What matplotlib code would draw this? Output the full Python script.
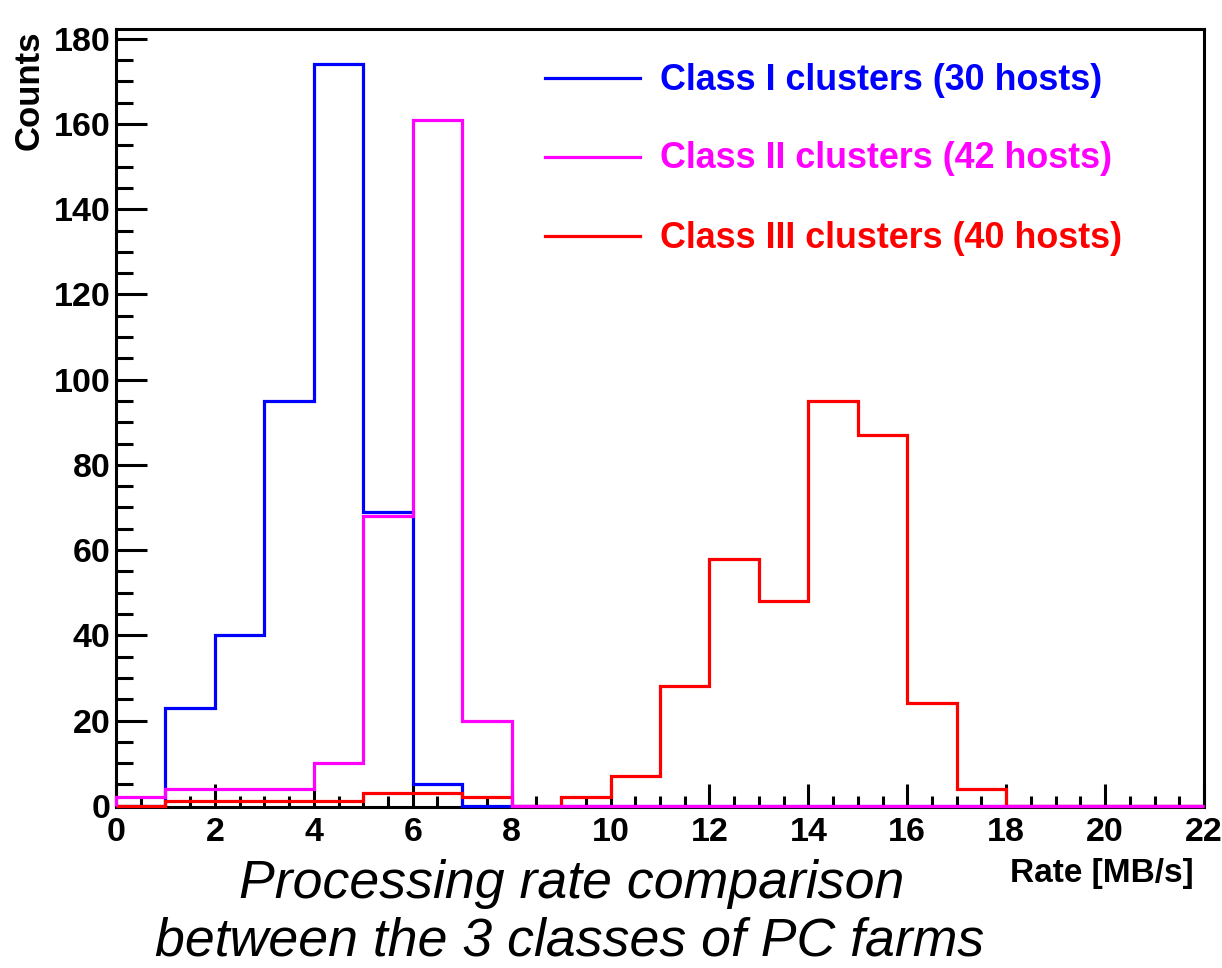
import numpy as np
import matplotlib
matplotlib.use("Agg")
import matplotlib.pyplot as plt
from matplotlib.lines import Line2D
from matplotlib.ticker import MultipleLocator

# ---- data ----
bin_edges = list(range(0, 23))
class1 = [0, 23, 40, 95, 174, 69, 5, 0, 0, 0, 0, 0, 0, 0, 0, 0, 0, 0, 0, 0, 0, 0]
class2 = [2, 4, 4, 4, 10, 68, 161, 20, 0, 0, 0, 0, 0, 0, 0, 0, 0, 0, 0, 0, 0, 0]
class3 = [0, 1, 1, 1, 1, 3, 3, 2, 0, 2, 7, 28, 58, 48, 95, 87, 24, 4, 0, 0, 0, 0]
labels = ["Class I clusters (30 hosts)", "Class II clusters (42 hosts)",
          "Class III clusters (40 hosts)"]
colors = ["#0000ff", "#ff00ff", "#ff0000"]

W, H = 1222, 968
fig = plt.figure(figsize=(W / 100, H / 100), dpi=100)
L, R, T, B = 116, 1204, 29, 807
ax = fig.add_axes([L / W, 1 - B / H, (R - L) / W, (B - T) / H])

lw = 2.3
ax.stairs(class1, bin_edges, color=colors[0], lw=lw, zorder=7, clip_on=False)
ax.stairs(class3, bin_edges, color=colors[2], lw=lw, zorder=8, clip_on=False)
ax.stairs(class2, bin_edges, color=colors[1], lw=lw, zorder=9, clip_on=False)

ax.set_xlim(0, 22)
ax.set_ylim(-0.3, 182.3)
for s in ax.spines.values():
    s.set_linewidth(2.2)
    s.set_zorder(6)

fp = dict(family="Liberation Sans", weight="bold")
ax.xaxis.set_major_locator(MultipleLocator(2))
ax.xaxis.set_minor_locator(MultipleLocator(0.5))
ax.yaxis.set_major_locator(MultipleLocator(20))
ax.yaxis.set_minor_locator(MultipleLocator(5))
ax.tick_params(axis="both", which="both", direction="in", top=False, right=False, width=2.2)
ax.tick_params(axis="y", which="major", length=22, pad=4)
ax.tick_params(axis="y", which="minor", length=12)
ax.tick_params(axis="x", which="major", length=16.5, pad=7)
ax.tick_params(axis="x", which="minor", length=8)
for t in ax.get_xticklabels() + ax.get_yticklabels():
    t.set_fontfamily("Liberation Sans")
    t.set_fontweight("bold")
    t.set_fontsize(24.5)

# axis titles
fig.text(13 / W, 1 - 30 / H, "Counts", rotation=90, ha="left", va="top", fontsize=25, **fp)
fig.text(1194 / W, 1 - 882 / H, "Rate [MB/s]", ha="right", va="baseline", fontsize=24, **fp)

# legend
leg_y = [78, 157, 236]
for lab, c, y in zip(labels, colors, leg_y):
    fig.add_artist(Line2D([545 / W, 640 / W], [1 - y / H, 1 - y / H],
                          transform=fig.transFigure, color=c, lw=2.3))
    fig.text(660 / W, 1 - (y + 2) / H, lab, color=c, ha="left", va="center",
             fontsize=25.8, **fp)

# caption
cap = dict(family="Liberation Sans", style="italic", fontsize=38.6, ha="center", va="baseline")
fig.text(572 / W, 1 - 898 / H, "Processing rate comparison", **cap)
fig.text(570 / W, 1 - 955 / H, "between the 3 classes of PC farms", **cap)

fig.savefig("out.png", dpi=100)
